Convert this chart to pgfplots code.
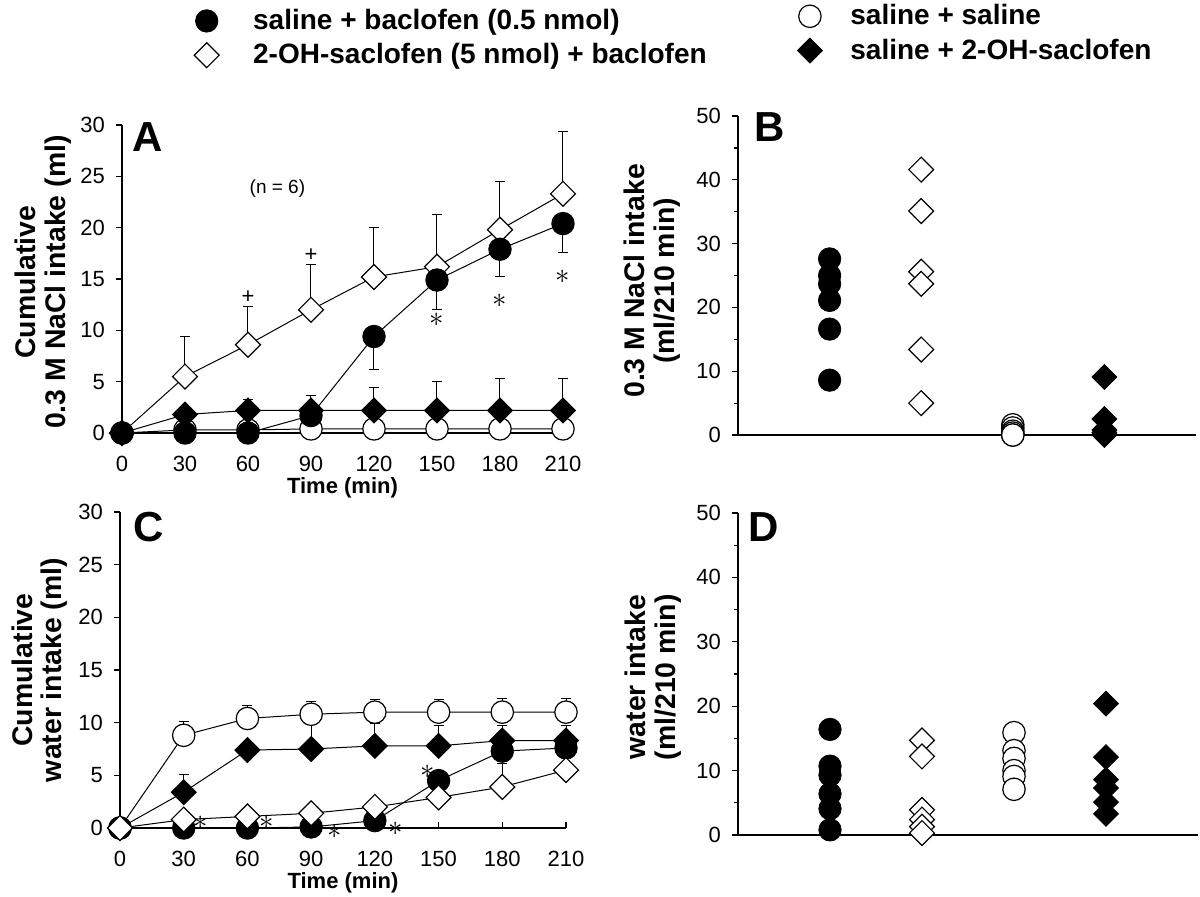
\documentclass[border=0pt]{standalone}
\usepackage{fontspec}
\setmainfont{Liberation Sans}
\newfontfamily\yfont{Liberation Sans}
\usepackage{pgfplots}
\pgfplotsset{compat=1.18}
\pgfplotsset{
 panel/.style={scale only axis, axis lines=left, axis line style={-, line width=0.6pt},
   tick style={line width=0.6pt, black}, tick align=outside, major tick length=3pt, minor tick length=2pt,
   ticklabel style={font=\fontsize{11}{13}\selectfont},
   /pgf/number format/assume math mode=true, clip=false,
   yticklabel shift=2pt,
   ylabel style={font=\yfont\bfseries\fontsize{14.2}{14.8}\selectfont, align=center, at={(axis description cs:-0.179,0.49)}, anchor=center},
   xlabel style={font=\bfseries\fontsize{11}{13}\selectfont}},
 timeaxis/.style={xticklabel shift=5pt, xlabel style={yshift=4pt}, every major x tick/.append style={yshift=3pt}},
 ser/.style={black, line width=0.5pt},
 ocirc/.style={mark=*, mark size=5.6pt, mark options={fill=white, draw=black, line width=0.6pt}},
 bcirc/.style={mark=*, mark size=5.6pt, mark options={fill=black, draw=black}},
 odia/.style={mark=square*, mark size=4.4pt, mark options={rotate=45, fill=white, draw=black, line width=0.6pt}},
 bdia/.style={mark=square*, mark size=4.4pt, mark options={rotate=45, fill=black, draw=black}},
 eplus/.style={error bars/y dir=plus, error bars/y explicit, error bars/error bar style={line width=0.5pt, black}, error bars/error mark options={rotate=90, mark size=2.5pt, line width=0.5pt, black}},
 eminus/.style={error bars/y dir=minus, error bars/y explicit, error bars/error bar style={line width=0.5pt, black}, error bars/error mark options={rotate=90, mark size=2.5pt, line width=0.5pt, black}},
 leg/.style={legend style={draw=none, fill=none, inner sep=0pt, row sep=1.5pt, font=\bfseries\fontsize{14}{16}\selectfont}, legend cell align=left},
}
\tikzset{
 panelletter/.style={font=\bfseries\fontsize{21}{21}\selectfont},
 star/.style={font=\fontsize{15}{15}\selectfont, inner sep=0pt},
}
\begin{document}
\begin{tikzpicture}
\useasboundingbox (0,0) rectangle (600pt,-448pt);
% ---------------- Panel A ----------------
\begin{axis}[panel, timeaxis, at={(61pt,-216.5pt)}, anchor=south west, width=220.5pt, height=154pt,
  xmin=0, xmax=210, ymin=0, ymax=30, xtick={0,30,...,210}, ytick={0,5,...,30},
  xlabel={Time (min)}, ylabel={Cumulative\\0.3 M NaCl intake (ml)},
  leg, legend style={at={(axis description cs:0.163,1.39)}, anchor=north west}]
\addplot[ser, ocirc, forget plot] coordinates {(0,0)(30,0.3)(60,0.3)(90,0.4)(120,0.4)(150,0.4)(180,0.4)(210,0.4)};
\addplot[ser, odia, eplus, forget plot] coordinates {(0,0) +- (0,0) (30,5.5) +- (0,3.9) (60,8.6) +- (0,3.7) (90,12.0) +- (0,4.4) (120,15.2) +- (0,4.8) (150,16.2) +- (0,5.1) (180,19.8) +- (0,4.7) (210,23.3) +- (0,6.1)};
\addplot[ser, bcirc, eminus, forget plot] coordinates {(0,0) +- (0,0) (30,0) +- (0,0) (60,0) +- (0,0) (90,1.7) +- (0,0) (120,9.4) +- (0,3.2) (150,14.9) +- (0,2.9) (180,17.9) +- (0,2.7) (210,20.4) +- (0,2.8)};
\addplot[ser, bdia, eplus, forget plot] coordinates {(0,0) +- (0,0) (30,1.8) +- (0,0) (60,2.2) +- (0,1.1) (90,2.2) +- (0,1.5) (120,2.2) +- (0,2.2) (150,2.2) +- (0,2.8) (180,2.2) +- (0,3.1) (210,2.2) +- (0,3.1)};
\addlegendimage{only marks, bcirc}
\addlegendentry{\hspace{15pt}saline + baclofen (0.5 nmol)}
\addlegendimage{only marks, odia}
\addlegendentry{\hspace{15pt}2-OH-saclofen (5 nmol) + baclofen}
\node[panelletter] at (axis cs:12.4,28.8) {A};
\node[font=\fontsize{9.5}{11}\selectfont] at (axis cs:74,23.8) {(n = 6)};
\node[font=\fontsize{11}{11}\selectfont] at (axis cs:60,13.2) {+};
\node[font=\fontsize{11}{11}\selectfont] at (axis cs:90,17.3) {+};
\node[star] at (axis cs:150,11.0) {$\ast$};
\node[star] at (axis cs:180,12.9) {$\ast$};
\node[star] at (axis cs:210,15.2) {$\ast$};
\end{axis}
% ---------------- Panel B ----------------
\begin{axis}[panel, at={(369pt,-217.5pt)}, anchor=south west, width=229pt, height=159.5pt,
  xmin=0, xmax=5, ymin=0, ymax=50, xtick=\empty, ytick={0,10,...,50}, minor y tick num=1,
  ylabel={0.3 M NaCl intake\\(ml/210 min)}, ylabel style={at={(axis description cs:-0.188,0.483)}},
  leg, legend style={at={(axis description cs:0.129,1.363)}, anchor=north west}]
\addplot[only marks, bcirc, forget plot] coordinates {(1,27.6)(1,25.0)(1,23.7)(1,21.1)(1,16.6)(1,8.6)};
\addplot[only marks, odia, forget plot] coordinates {(2,41.6)(2,35.1)(2,25.6)(2,23.7)(2,13.4)(2,5.0)};
\addplot[only marks, ocirc, forget plot] coordinates {(3,1.6)(3,1.1)(3,0.6)(3,0.3)(3,0)(3,0)};
\addplot[only marks, bdia, forget plot] coordinates {(4,9.1)(4,2.5)(4,0.8)(4,0.4)(4,0.1)(4,0)};
\addlegendimage{only marks, ocirc}
\addlegendentry{\hspace{12pt}saline + saline}
\addlegendimage{only marks, bdia}
\addlegendentry{\hspace{12pt}saline + 2-OH-saclofen}
\node[panelletter] at (axis cs:0.35,48.3) {B};
\end{axis}
% ---------------- Panel C ----------------
\begin{axis}[panel, timeaxis, at={(60pt,-414pt)}, anchor=south west, width=223pt, height=158pt,
  xmin=0, xmax=210, ymin=0, ymax=30, xtick={0,30,...,210}, ytick={0,5,...,30},
  xlabel={Time (min)}, ylabel={Cumulative\\water intake (ml)}, ylabel style={at={(axis description cs:-0.18,0.5)}}]
\addplot[ser, ocirc, eplus] coordinates {(0,0) +- (0,0) (30,8.8) +- (0,1.3) (60,10.4) +- (0,1.2) (90,10.8) +- (0,1.2) (120,11.0) +- (0,1.2) (150,11.0) +- (0,1.2) (180,11.0) +- (0,1.3) (210,11.0) +- (0,1.3)};
\addplot[ser, bdia, eplus] coordinates {(0,0) +- (0,0) (30,3.4) +- (0,1.7) (60,7.4) +- (0,0) (90,7.5) +- (0,2.5) (120,7.8) +- (0,2.1) (150,7.8) +- (0,1.9) (180,8.3) +- (0,1.4) (210,8.3) +- (0,1.4)};
\addplot[ser, bcirc] coordinates {(0,0)(30,0)(60,0)(90,0.1)(120,0.7)(150,4.5)(180,7.3)(210,7.6)};
\addplot[ser, odia, eplus] coordinates {(0,0) +- (0,0) (30,0.8) +- (0,0) (60,1.1) +- (0,0) (90,1.4) +- (0,0) (120,2.0) +- (0,0) (150,2.9) +- (0,1.2) (180,3.9) +- (0,2.2) (210,5.5) +- (0,0.3)};
\node[panelletter] at (axis cs:13.7,28.6) {C};
\node[star] at (axis cs:38,0.5) {$\ast$};
\node[star] at (axis cs:69,0.5) {$\ast$};
\node[star] at (axis cs:101,-0.4) {$\ast$};
\node[star] at (axis cs:130,-0.1) {$\ast$};
\node[star] at (axis cs:145,5.3) {$\ast$};
\end{axis}
% ---------------- Panel D ----------------
\begin{axis}[panel, at={(369pt,-417.5pt)}, anchor=south west, width=230pt, height=161pt,
  xmin=0, xmax=5, ymin=0, ymax=50, xtick=\empty, ytick={0,10,...,50}, minor y tick num=1,
  ylabel={water intake\\(ml/210 min)}, ylabel style={at={(axis description cs:-0.185,0.49)}}]
\addplot[only marks, bcirc] coordinates {(1,16.4)(1,10.7)(1,9.3)(1,6.4)(1,4.1)(1,0.8)};
\addplot[only marks, odia] coordinates {(2,14.7)(2,12.2)(2,3.9)(2,2.4)(2,1.3)(2,0.3)};
\addplot[only marks, ocirc] coordinates {(3,15.9)(3,13.1)(3,11.9)(3,10.0)(3,9.1)(3,7.1)};
\addplot[only marks, bdia] coordinates {(4,20.4)(4,12.1)(4,8.6)(4,7.3)(4,5.1)(4,3.3)};
\node[panelletter] at (axis cs:0.28,47.8) {D};
\end{axis}
\end{tikzpicture}
\end{document}
